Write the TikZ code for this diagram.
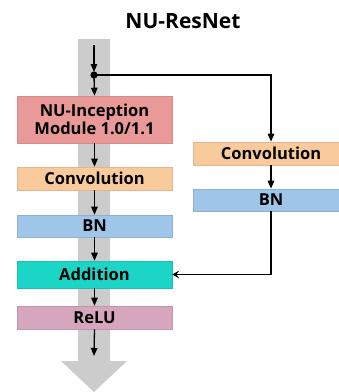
\documentclass[tikz,border=0pt]{standalone}
\usepackage{fontspec}
\setmainfont{Open Sans}
\usetikzlibrary{arrows.meta}
\definecolor{incfill}{HTML}{EA9999}
\definecolor{convfill}{HTML}{F9CB9C}
\definecolor{bnfill}{HTML}{9FC5E8}
\definecolor{addfill}{HTML}{1BD6C6}
\definecolor{relufill}{HTML}{D5A6BD}
\definecolor{trunk}{HTML}{CCCCCC}
\tikzset{
  layer/.style={rectangle, minimum width=155pt, inner sep=0pt, align=center,
    font=\fontsize{16.5}{19}\selectfont\bfseries, text=black, line width=0.6pt},
  flow/.style={line width=1.3pt, -{Triangle[length=8pt,width=6.5pt]}},
  merge/.style={line width=1.3pt, -{Stealth[length=7pt,width=8pt,inset=3pt]}},
}
\begin{document}
\begin{tikzpicture}[x=1pt,y=-1pt]
\useasboundingbox (0,0) rectangle (339,392);
% grey trunk with its big arrowhead
\fill[trunk] (78,39) -- (110,39) -- (110,361) -- (127,361) -- (94,392) -- (61,361) -- (78,361) -- cycle;
% title
\node[font=\fontsize{21}{25}\selectfont\bfseries] (title) at (183,21) {NU-ResNet};
% main path
\node[layer, fill=incfill, draw=incfill!90!black, minimum height=47pt] (inc) at (94.5,119.5) {NU-Inception\\[-1pt]Module 1.0/1.1};
\node[layer, fill=convfill, draw=convfill!90!black, minimum height=23pt] (conv) at (94.5,178.5) {Convolution};
\node[layer, fill=bnfill, draw=bnfill!90!black, minimum height=22pt] (bn) at (94.5,226) {BN};
\node[layer, fill=addfill, draw=addfill!90!black, minimum height=27pt] (add) at (94.5,274.5) {Addition};
\node[layer, fill=relufill, draw=relufill!90!black, minimum height=23pt] (relu) at (94.5,317.5) {ReLU};
% shortcut branch
\node[layer, minimum width=156pt, fill=convfill, draw=convfill!90!black, minimum height=23pt] (rconv) at (271,153.5) {Convolution};
\node[layer, minimum width=156pt, fill=bnfill, draw=bnfill!90!black, minimum height=22pt] (rbn) at (271,200) {BN};
% connectors
\coordinate (in) at (94,45);
\coordinate (split) at (94,75);
\coordinate (out) at (94,356);
\draw[flow] (in) -- ([yshift=3pt]split);
\draw[flow] (split) -- (inc.north);
\draw[flow] (inc) -- (conv);
\draw[flow] (conv) -- (bn);
\draw[flow] (bn) -- (add);
\draw[flow] (add) -- (relu);
\draw[flow] (relu.south) -- (out);
\draw[flow] (split) -| (rconv.north);
\draw[flow] (rconv) -- (rbn);
\draw[merge] (rbn.south) |- (add.east);
\fill (split) circle (3.6pt);
\end{tikzpicture}
\end{document}
